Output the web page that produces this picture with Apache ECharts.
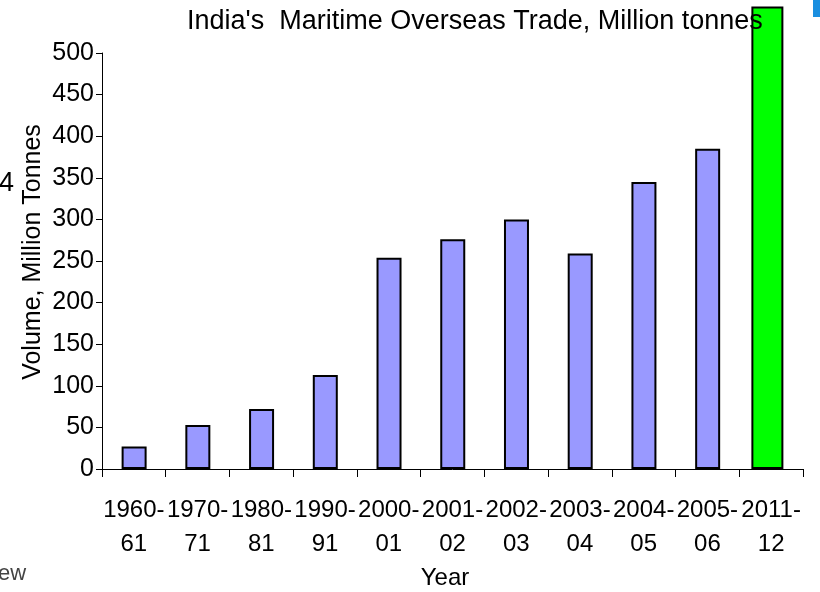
<!DOCTYPE html>
<html>
<head>
<meta charset="utf-8">
<title>India's Maritime Overseas Trade</title>
<script src="https://cdn.jsdelivr.net/npm/echarts@6/dist/echarts.min.js"></script>
<style>
  html, body { margin: 0; padding: 0; background: #ffffff; }
  #chart { width: 820px; height: 592px; }
</style>
</head>
<body>
<div id="chart"></div>
<script>
// Financial years on the category axis
const years = ['1960-\n61', '1970-\n71', '1980-\n81', '1990-\n91', '2000-\n01', '2001-\n02',
               '2002-\n03', '2003-\n04', '2004-\n05', '2005-\n06', '2011-\n12'];
// Traffic volume, million tonnes (historical years)
const volumeHistoric = [27, 53, 72, 113, 254, 276, 300, 259, 345, 385, null];
// Traffic volume, million tonnes (2011-12, highlighted)
const volumeLatest = [null, null, null, null, null, null, null, null, null, null, 556];
// Value axis range and step
const yMin = 0, yMax = 500, yStep = 50;

const FONT = '"Liberation Sans", Arial, sans-serif';
const chart = echarts.init(document.getElementById('chart'), null, { renderer: 'canvas' });

chart.setOption({
  animation: false,
  backgroundColor: '#ffffff',
  title: {
    text: "India's  Maritime Overseas Trade, Million tonnes",
    left: 182,
    top: 3,
    textStyle: { fontFamily: FONT, fontSize: 27, fontWeight: 'normal', color: '#000000' }
  },
  grid: { left: 102, right: 17, top: 53, bottom: 123, containLabel: false },
  xAxis: {
    type: 'category',
    data: years,
    boundaryGap: true,
    axisLine: { lineStyle: { color: '#000000', width: 1 } },
    axisTick: { show: true, alignWithLabel: false, length: 8, lineStyle: { color: '#000000' } },
    axisLabel: {
      interval: 0,
      margin: 24,
      fontFamily: FONT,
      fontSize: 24,
      lineHeight: 34,
      color: '#000000'
    },
    splitLine: { show: false }
  },
  yAxis: {
    type: 'value',
    min: yMin,
    max: yMax,
    interval: yStep,
    axisLine: { show: true, lineStyle: { color: '#000000', width: 1 } },
    axisTick: { show: true, length: 6, lineStyle: { color: '#000000' } },
    axisLabel: { margin: 8, fontFamily: FONT, fontSize: 25, color: '#000000' },
    splitLine: { show: false }
  },
  series: [
    {
      name: 'Volume',
      type: 'bar',
      data: volumeHistoric,
      barWidth: 25,
      barGap: '-130%',
      itemStyle: { color: '#9999ff', borderColor: '#000000', borderWidth: 2 }
    },
    {
      name: 'Volume 2011-12',
      type: 'bar',
      data: volumeLatest,
      barWidth: 32,
      barGap: '-130%',
      clip: false,
      z: 1,
      itemStyle: { color: '#00ff00', borderColor: '#000000', borderWidth: 2 }
    }
  ],
  graphic: [
    {
      type: 'text',
      x: 33, y: 252,
      rotation: Math.PI / 2,
      style: {
        text: 'Volume, Million Tonnes',
        fontFamily: FONT, fontSize: 25, fill: '#000000',
        align: 'center', verticalAlign: 'middle'
      }
    },
    {
      type: 'text',
      x: 445, y: 578,
      style: {
        text: 'Year',
        fontFamily: FONT, fontSize: 24, fill: '#000000',
        align: 'center', verticalAlign: 'middle'
      }
    },
    {
      type: 'text',
      x: -1, y: 184,
      style: {
        text: '4',
        fontFamily: FONT, fontSize: 27, fill: '#000000',
        align: 'left', verticalAlign: 'middle'
      }
    },
    {
      type: 'text',
      x: -2, y: 574,
      style: {
        text: 'ew',
        fontFamily: FONT, fontSize: 22, fill: '#444444',
        align: 'left', verticalAlign: 'middle'
      }
    },
    {
      type: 'rect',
      shape: { x: 813, y: 0, width: 7, height: 17 },
      style: { fill: '#1a8fe0' }
    }
  ]
});
</script>
</body>
</html>
